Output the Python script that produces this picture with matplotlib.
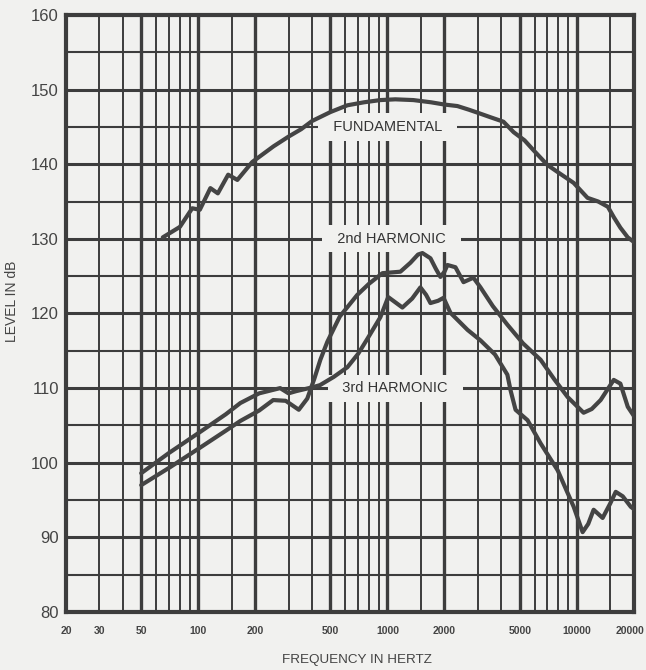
import matplotlib
matplotlib.use("Agg")
import matplotlib.pyplot as plt
from matplotlib.transforms import ScaledTranslation

# values
fund_f = [65, 80, 93, 102, 116, 127, 144, 161, 193, 250, 300, 350, 400, 500, 614,
          750, 917, 1100, 1370, 1700, 2000, 2340, 2700, 3000, 3500, 4100, 4640,
          5300, 5900, 7000, 8200, 9630, 11400, 13000, 14600, 15700, 17000, 18600, 20000]
fund_db = [130.2, 131.6, 134.1, 133.9, 136.8, 136.1, 138.6, 137.9, 140.3, 142.4, 143.7,
           144.7, 145.8, 147.0, 147.9, 148.3, 148.6, 148.7, 148.6, 148.3, 148.0, 147.8,
           147.3, 146.9, 146.3, 145.7, 144.3, 143.2, 141.9, 139.9, 138.7, 137.5, 135.5,
           135.0, 134.3, 132.9, 131.5, 130.2, 129.6]

h2_f = [50, 70, 102, 140, 167, 210, 249, 290, 340, 377, 410, 442, 481, 560, 693, 800,
        940, 1170, 1322, 1450, 1530, 1687, 1800, 1905, 2000, 2075, 2286, 2522, 2845,
        3100, 3600, 4300, 5200, 6441, 7600, 8953, 10870, 12000, 13370, 15680, 17000,
        18600, 20000]
h2_db = [97.0, 99.3, 102.0, 104.3, 105.6, 107.0, 108.4, 108.3, 107.1, 108.6, 111.2,
         113.8, 116.2, 119.6, 122.5, 124.0, 125.4, 125.6, 126.8, 127.9, 128.1, 127.4,
         126.0, 124.9, 125.6, 126.5, 126.2, 124.2, 124.8, 123.5, 121.0, 118.5, 116.0,
         113.8, 111.2, 108.8, 106.7, 107.2, 108.4, 111.1, 110.6, 107.5, 106.3]

h3_f = [50, 70, 102, 140, 167, 210, 271, 300, 330, 400, 440, 520, 614, 700, 783, 917,
        1009, 1100, 1199, 1350, 1493, 1600, 1687, 1850, 1978, 2150, 2650, 3100, 3700,
        4300, 4470, 4750, 5497, 6441, 7923, 9633, 10740, 11500, 12280, 13700, 15000,
        16070, 17500, 19290, 20000]
h3_db = [98.6, 101.3, 104.1, 106.5, 108.0, 109.3, 110.0, 109.3, 109.6, 110.1, 110.4,
         111.5, 112.8, 114.6, 116.6, 119.5, 122.2, 121.5, 120.8, 122.0, 123.5, 122.5,
         121.4, 121.7, 122.1, 120.1, 117.8, 116.4, 114.5, 111.8, 109.7, 107.1, 105.7,
         102.6, 99.0, 94.1, 90.7, 91.8, 93.7, 92.6, 94.5, 96.1, 95.5, 94.1, 93.8]

x_ticks = [20, 30, 50, 100, 200, 500, 1000, 2000, 5000, 10000, 20000]
y_ticks = [80, 90, 100, 110, 120, 130, 140, 150, 160]

grid_major = [50, 100, 200, 500, 1000, 2000, 5000, 10000]
grid_minor = [30, 40, 60, 70, 80, 90, 150, 300, 400, 600, 700, 800, 900, 1500,
              3000, 4000, 6000, 7000, 8000, 9000, 15000]

bg = '#f1f1ef'
ink = '#3d3d3d'

plt.rcParams['font.family'] = ['Liberation Sans', 'DejaVu Sans']

fig = plt.figure(figsize=(6.46, 6.70), dpi=100, facecolor=bg)
ax = fig.add_axes([0.102, 0.0866, 0.879, 0.891], facecolor=bg)
ax.set_xscale('log')
ax.set_xlim(20, 20000)
ax.set_ylim(80, 160)

for f in grid_minor:
    ax.axvline(f, color=ink, lw=1.4, zorder=1)
for f in grid_major:
    ax.axvline(f, color=ink, lw=2.4, zorder=1)
for v in range(85, 160, 5):
    ax.axhline(v, color=ink, lw=2.2 if v % 10 == 0 else 1.5, zorder=1)

for s in ax.spines.values():
    s.set_linewidth(3)
    s.set_color(ink)

ax.xaxis.set_minor_locator(matplotlib.ticker.NullLocator())
ax.set_xticks(x_ticks)
ax.set_xticklabels([str(t) for t in x_ticks], fontsize=7.5, fontweight='bold',
                   color='#444', family=['Liberation Sans Narrow', 'Liberation Sans'])
ax.set_yticks(y_ticks)
ax.set_yticklabels([str(t) for t in y_ticks], fontsize=12, color='#444')
ax.tick_params(axis='x', length=0, pad=10)
ax.tick_params(axis='y', length=0, pad=5)

# nudge the last frequency label so it stays inside the picture
last = ax.get_xticklabels()[-1]
last.set_transform(last.get_transform() + ScaledTranslation(-3 / 72, 0, fig.dpi_scale_trans))

for fx, dy in [(fund_f, fund_db), (h2_f, h2_db), (h3_f, h3_db)]:
    ax.plot(fx, dy, color='#444', lw=3.0, solid_joinstyle='round',
            solid_capstyle='round', zorder=4)

box = dict(boxstyle='square,pad=0.45', facecolor=bg, edgecolor='none')
ax.text(1000, 145, '  FUNDAMENTAL  ', ha='center', va='center', fontsize=10.5,
        color='#333', bbox=box, zorder=3)
ax.text(1050, 130, '  2nd HARMONIC  ', ha='center', va='center', fontsize=10.5,
        color='#333', bbox=box, zorder=3)
ax.text(1100, 110, '  3rd HARMONIC  ', ha='center', va='center', fontsize=10.5,
        color='#333', bbox=box, zorder=3)

fig.text(0.019, 0.55, 'LEVEL IN dB', rotation=90, ha='center', va='center',
         fontsize=10, color='#444')
fig.text(0.553, 0.015, 'FREQUENCY IN HERTZ', ha='center', va='center',
         fontsize=9.7, color='#444')

fig.savefig('out.png', dpi=100, facecolor=bg)
